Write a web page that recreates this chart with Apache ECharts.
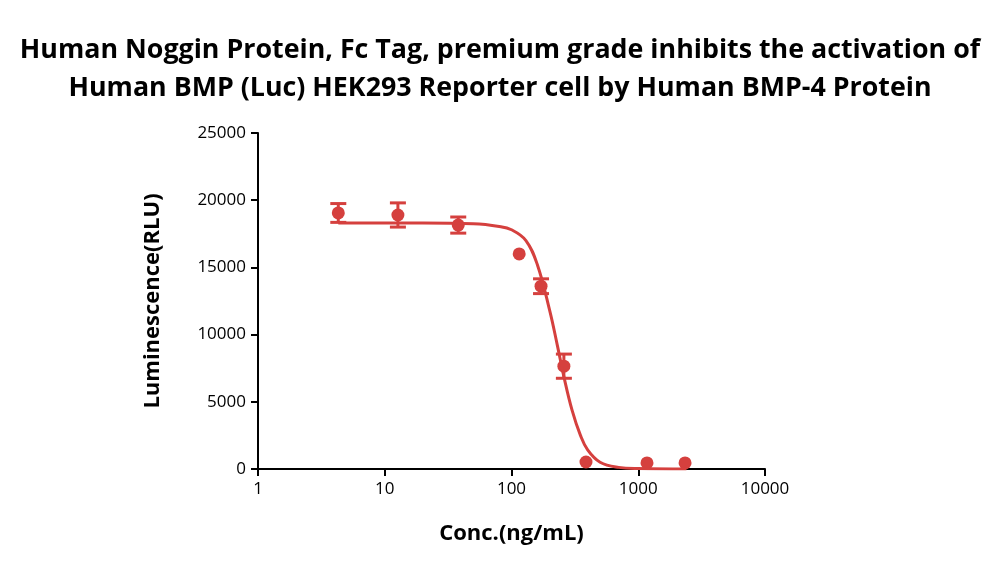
<!DOCTYPE html>
<html><head><meta charset="utf-8">
<script src="https://cdn.jsdelivr.net/npm/echarts@6/dist/echarts.min.js"></script>
<style>html,body{margin:0;padding:0;background:#fff}#c{width:1000px;height:573px}</style>
</head><body><div id="c"></div>
<script>
const conc = [4.3, 12.7, 38, 115, 171, 259, 387, 1172, 2340];
const lum = [19050, 18900, 18150, 16000, 13600, 7650, 520, 450, 450];
const err = [700, 900, 600, 0, 550, 900, 0, 0, 0];
const fitX = [4.3, 20, 50, 80, 100, 130, 160, 200, 230, 260, 300, 350, 400, 500, 700, 1000, 2400];
const fitY = [18300, 18300, 18250, 18050, 17800, 17000, 15200, 11800, 9200, 6800, 4400, 2500, 1400, 500, 120, 30, 0];
const color = '#d5403e';
const font = 'Open Sans, Liberation Sans, sans-serif';
const chart = echarts.init(document.getElementById('c'));
chart.setOption({
  animation: false,
  title: { text: 'Human Noggin Protein, Fc Tag, premium grade inhibits the activation of\nHuman BMP (Luc) HEK293 Reporter cell by Human BMP-4 Protein',
    left: 'center', top: 26, textStyle: { fontFamily: font, fontSize: 26.8, fontWeight: 'bold', color: '#000', lineHeight: 38 } },
  grid: { left: 258, right: 235, top: 133, bottom: 104 },
  xAxis: { type: 'log', min: 1, max: 10000, logBase: 10, name: 'Conc.(ng/mL)', nameLocation: 'middle', nameGap: 54,
    nameTextStyle: { fontFamily: font, fontSize: 22, fontWeight: 'bold', color: '#000' },
    axisLine: { lineStyle: { color: '#000', width: 2 } }, axisTick: { length: 7, lineStyle: { width: 2, color: '#000' } },
    minorTick: { show: false }, splitLine: { show: false },
    axisLabel: { fontFamily: font, fontSize: 17, color: '#000', margin: 12, formatter: v => String(v) } },
  yAxis: { type: 'value', min: 0, max: 25000, interval: 5000, name: 'Luminescence(RLU)', nameLocation: 'middle', nameGap: 94,
    nameTextStyle: { fontFamily: font, fontSize: 22, fontWeight: 'bold', color: '#000' },
    axisLine: { show: true, lineStyle: { color: '#000', width: 2 } }, axisTick: { show: true, length: 7, lineStyle: { width: 2, color: '#000' } },
    splitLine: { show: false }, axisLabel: { fontFamily: font, fontSize: 17, color: '#000', margin: 12, formatter: v => String(v) } },
  series: [
    { type: 'line', data: fitX.map((x, i) => [x, fitY[i]]), smooth: 0.4, showSymbol: false, lineStyle: { color, width: 3 } },
    { type: 'scatter', data: conc.map((x, i) => [x, lum[i]]), symbolSize: 13, itemStyle: { color, opacity: 1 } },
    { type: 'custom', data: conc.map((x, i) => [x, lum[i] - err[i], lum[i] + err[i]]).filter((d, i) => err[i] > 0),
      renderItem: (params, api) => {
        const lo = api.coord([api.value(0), api.value(1)]);
        const hi = api.coord([api.value(0), api.value(2)]);
        const w = 8;
        const s = { stroke: color, lineWidth: 3 };
        return { type: 'group', children: [
          { type: 'line', shape: { x1: lo[0], y1: lo[1], x2: hi[0], y2: hi[1] }, style: s },
          { type: 'line', shape: { x1: lo[0] - w, y1: lo[1], x2: lo[0] + w, y2: lo[1] }, style: s },
          { type: 'line', shape: { x1: hi[0] - w, y1: hi[1], x2: hi[0] + w, y2: hi[1] }, style: s } ] };
      } }
  ]
});
</script></body></html>
